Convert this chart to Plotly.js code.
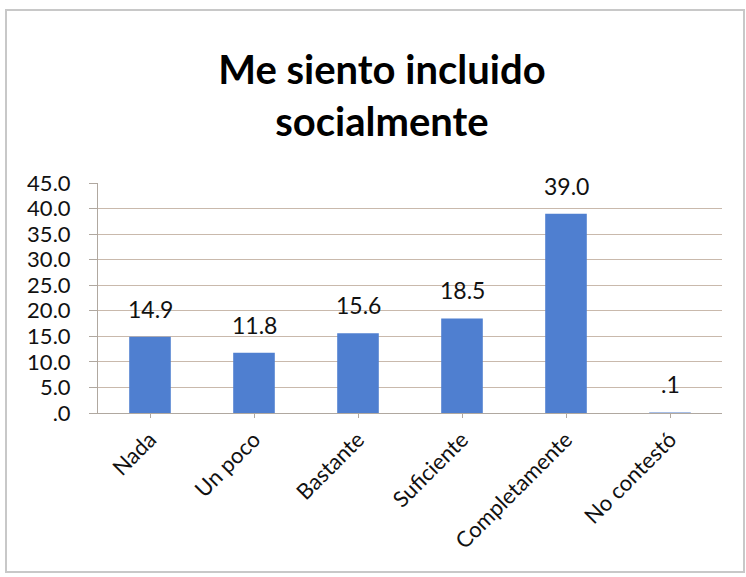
<!DOCTYPE html>
<html>
<head>
<meta charset="utf-8">
<script src="https://cdn.plot.ly/plotly-3.0.1.min.js"></script>
<style>html,body{margin:0;padding:0;background:#fff;}#chart{width:746px;height:577px;}</style>
</head>
<body>
<div id="chart"></div>
<script>
const categories = ["Nada", "Un poco", "Bastante", "Suficiente", "Completamente", "No contestó"];
const values = [14.9, 11.8, 15.6, 18.5, 39.0, 0.1];
const valueLabels = ["14.9", "11.8", "15.6", "18.5", "39.0", ".1"];
const yTickVals = [0, 5, 10, 15, 20, 25, 30, 35, 40, 45];
const yTickText = [".0", "5.0", "10.0", "15.0", "20.0", "25.0", "30.0", "35.0", "40.0", "45.0"];

const font = "Lato, 'Open Sans', sans-serif";

const trace = {
  type: "bar",
  x: categories,
  y: values,
  marker: {color: "#4f7fd0"},
  hoverinfo: "x+y"
};

const annotations = categories.map((c, i) => ({
  x: c, y: values[i], xref: "x", yref: "y",
  text: valueLabels[i], showarrow: false,
  yanchor: "bottom", yshift: 12,
  font: {family: font, size: 23, color: "#111"}
}));

const layout = {
  width: 746, height: 577,
  paper_bgcolor: "#fff", plot_bgcolor: "#fff",
  margin: {l: 98, r: 24, t: 183, b: 164},
  showlegend: false,
  bargap: 0.6,
  title: {
    text: "<b>Me siento incluido<br>socialmente</b>",
    font: {family: font, size: 40, color: "#000"},
    x: 0.512, xref: "container", xanchor: "center",
    y: 0.855, yref: "container", yanchor: "top"
  },
  xaxis: {
    tickangle: -45,
    tickfont: {family: font, size: 22, color: "#111"},
    showline: true, linecolor: "#b0a8a0", linewidth: 1,
    ticks: "outside", ticklen: 4, tickcolor: "#b0a8a0",
    showgrid: false, automargin: false,
    fixedrange: true
  },
  yaxis: {
    range: [0, 45],
    tickvals: yTickVals,
    ticktext: yTickText,
    tickfont: {family: font, size: 22, color: "#111"},
    showgrid: true, gridcolor: "#c9b9ac", gridwidth: 1,
    showline: true, linecolor: "#b0a8a0", linewidth: 1,
    ticks: "outside", ticklen: 8, tickcolor: "#b0a8a0",
    ticklabelstandoff: 14,
    zeroline: false, automargin: false,
    fixedrange: true
  },
  annotations: annotations,
  shapes: [
    {type: "rect", xref: "paper", yref: "paper", layer: "below",
     x0: -92/624, x1: 1 + 22/624, y0: -159/230, y1: 1 + 173/230,
     line: {color: "#c8c8c8", width: 2}, fillcolor: "rgba(0,0,0,0)"}
  ]
};

Plotly.newPlot("chart", [trace], layout, {displayModeBar: false, staticPlot: true});
</script>
</body>
</html>
